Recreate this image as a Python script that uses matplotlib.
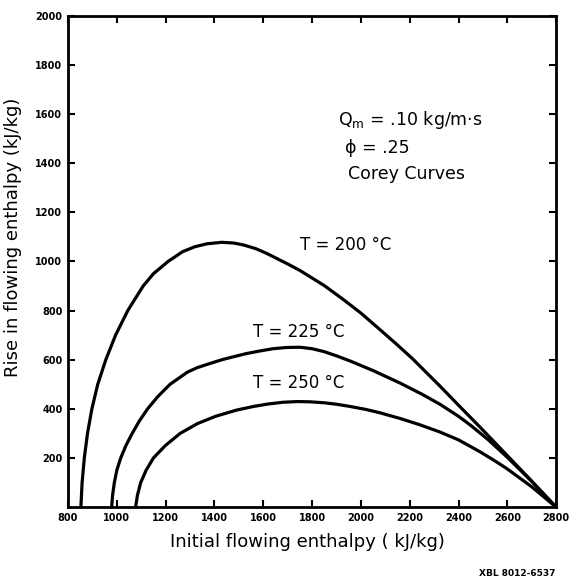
import numpy as np
import matplotlib
matplotlib.use('Agg')
import matplotlib.pyplot as plt

# values
h_200 = [853, 858, 867, 880, 898, 922, 955, 995, 1045, 1108, 1150, 1210, 1270, 1320, 1370, 1430,
         1480, 1520, 1570, 1614, 1700, 1751, 1850, 1927, 2000, 2079, 2150, 2214, 2324, 2400, 2489,
         2598, 2700, 2800]
r_200 = [0, 100, 200, 300, 400, 500, 600, 700, 800, 900, 950, 1000, 1040, 1060, 1072, 1078,
         1075, 1067, 1052, 1033, 990, 963, 902, 846, 790, 722, 660, 602, 493, 415, 325,
         212, 106, 0]

h_225 = [979, 983, 990, 1000, 1016, 1037, 1063, 1092, 1126, 1168, 1218, 1290, 1330, 1382, 1430, 1477,
         1530, 1587, 1640, 1696, 1751, 1800, 1850, 1900, 1956, 2050, 2161, 2250, 2324, 2400, 2450,
         2520, 2598, 2700, 2800]
r_225 = [0, 50, 100, 150, 200, 250, 300, 350, 400, 450, 500, 550, 568, 585, 600, 612,
         625, 636, 645, 650, 651, 645, 633, 616, 595, 556, 505, 460, 419, 370, 333,
         276, 205, 105, 0]

h_250 = [1077, 1085, 1098, 1120, 1150, 1198, 1259, 1330, 1405, 1490, 1560, 1620, 1680, 1740, 1790,
         1850, 1900, 1956, 2020, 2079, 2161, 2240, 2324, 2400, 2489, 2550, 2598, 2700, 2800]
r_250 = [0, 50, 100, 150, 200, 250, 300, 340, 370, 395, 410, 420, 427, 430, 429,
         425, 419, 410, 398, 384, 361, 336, 306, 274, 225, 188, 157, 83, 0]

curve_labels = ['T = 200 °C', 'T = 225 °C', 'T = 250 °C']
label_pos = [(1751, 1069), (1558, 715), (1558, 504)]

xticks = np.arange(800, 2801, 200)
yticks = np.arange(200, 2001, 200)

fig = plt.figure(figsize=(5.71, 5.83), dpi=100)
ax = fig.add_axes([0.119, 0.130, 0.855, 0.843])

for h, r in [(h_200, r_200), (h_225, r_225), (h_250, r_250)]:
    ax.plot(h, r, color='black', lw=2.3, solid_joinstyle='round', solid_capstyle='round')

for txt, (x, y) in zip(curve_labels, label_pos):
    ax.text(x, y, txt, fontsize=12, va='center', ha='left')

ax.text(1907, 1577, 'Q$_{\\mathrm{m}}$ = .10 kg/m·s', fontsize=12.5, va='center')
ax.text(1935, 1463, 'ϕ = .25', fontsize=12.5, va='center')
ax.text(1947, 1354, 'Corey Curves', fontsize=12.5, va='center')

ax.set_xlim(800, 2800)
ax.set_ylim(0, 2000)
ax.set_xticks(xticks)
ax.set_yticks(yticks)
ax.set_xticklabels([str(v) for v in xticks], fontsize=7, fontweight='bold')
ax.set_yticklabels([str(v) for v in yticks], fontsize=7, fontweight='bold')
ax.tick_params(direction='in', length=5, width=1.5, top=True, right=True, pad=4)
for s in ax.spines.values():
    s.set_linewidth(2)

ax.set_xlabel('Initial flowing enthalpy ( kJ/kg)', fontsize=13)
ax.xaxis.set_label_coords(0.49, -0.052)
ax.set_ylabel('Rise in flowing enthalpy (kJ/kg)', fontsize=13)
ax.yaxis.set_label_coords(-0.094, 0.549)

fig.text(0.972, 0.012, 'XBL 8012-6537', fontsize=6.5, fontweight='bold', ha='right')

fig.savefig('out.png', dpi=100)
